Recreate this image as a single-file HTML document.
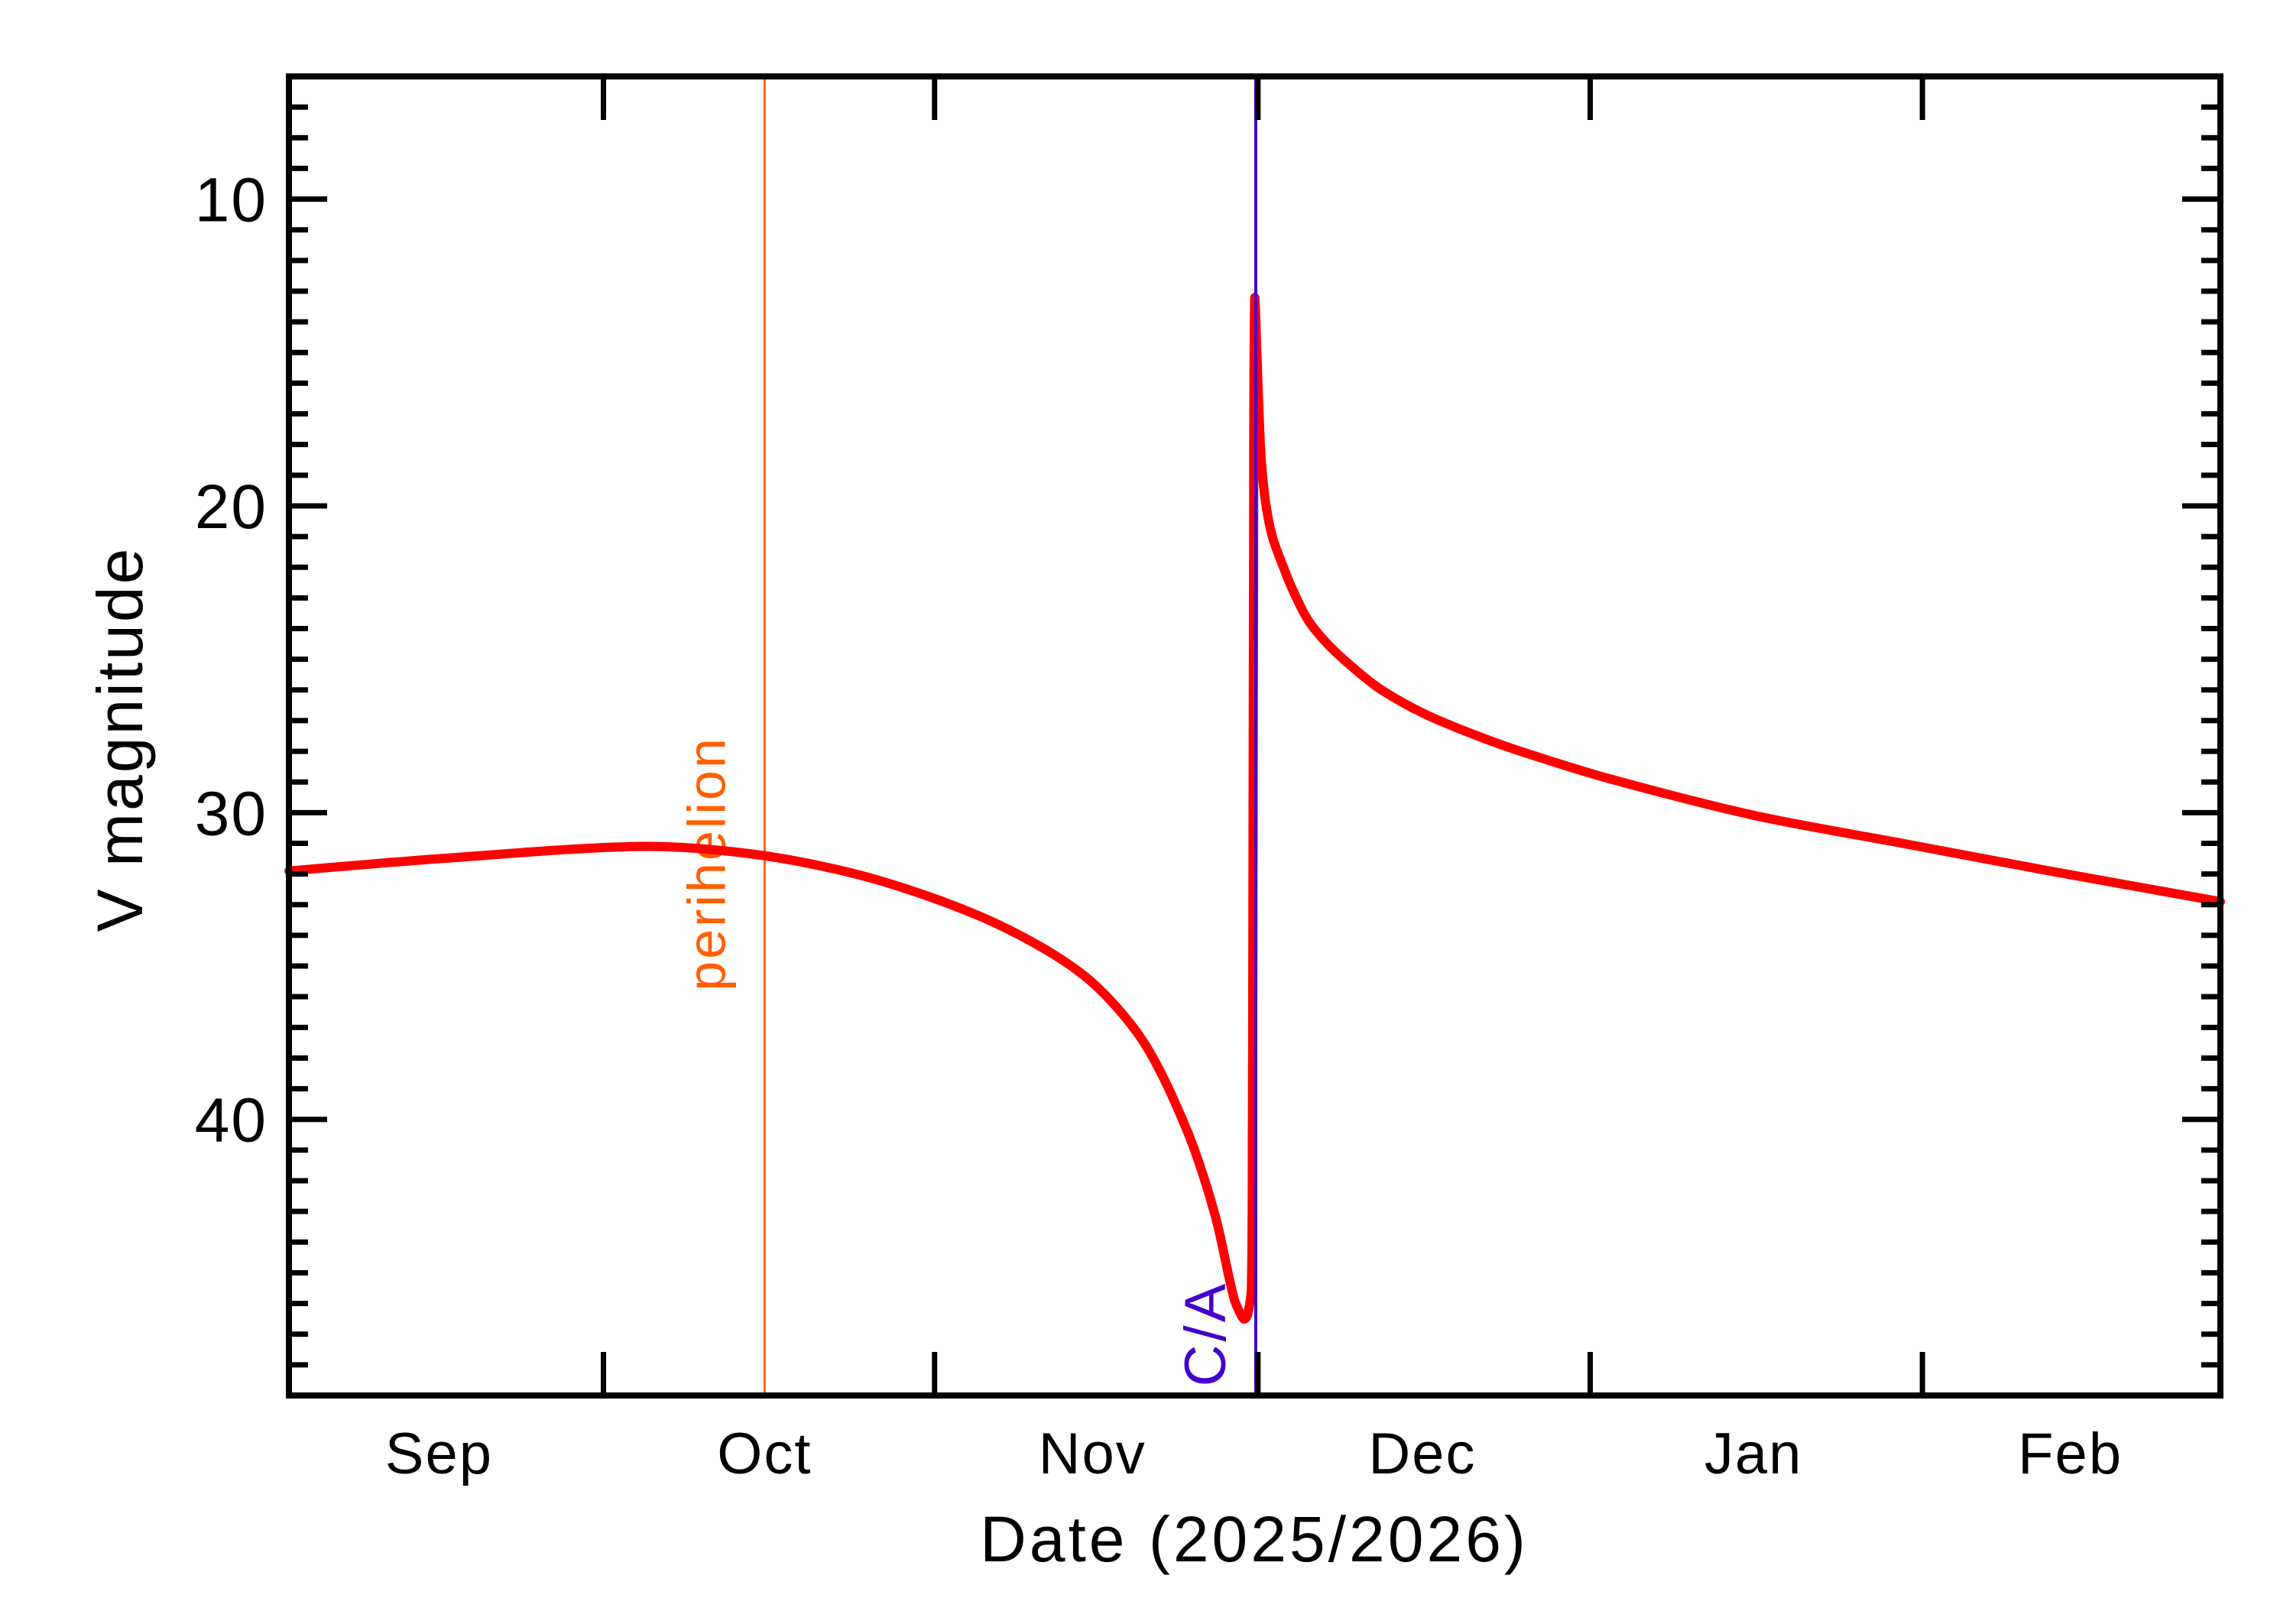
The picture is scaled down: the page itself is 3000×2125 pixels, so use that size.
<!DOCTYPE html>
<html><head><meta charset="utf-8"><style>
html,body{margin:0;padding:0;background:#fff;}
svg{display:block;}
text{font-family:"Liberation Sans",sans-serif;}
</style></head><body>
<svg id="chart" width="3000" height="2125" viewBox="0 0 3000 2125" xmlns="http://www.w3.org/2000/svg">
<rect x="0" y="0" width="3000" height="2125" fill="#fff"/>
<g id="marks"></g>
<g id="axes"></g>
<text x="1641" y="2043" font-size="84" letter-spacing="4" text-anchor="middle">Date (2025/2026)</text>
<text transform="translate(186,967) rotate(-90)" font-size="84" letter-spacing="3" text-anchor="middle">V magnitude</text>
</svg>
<script>
const days = [0,13.6,32.2,43.0,53.4,64.0,72.0,77.3,81.3,83.9,85.6,86.3,86.6,86.9,87.2,87.3,87.35,87.4,87.5,87.7,87.9,88.1,88.5,89.1,90.0,90.9,92.3,94.1,96.5,99.0,103.0,107.7,112.0,119.7,132.9,146.2,159.5,175];
const mags = [31.9,31.5,31.1,31.4,32.2,33.6,35.3,37.4,40.3,43.1,45.8,46.4,46.5,46.3,45.5,40,32,22,13.3,15.0,17.0,18.5,19.9,21.0,21.9,22.7,23.7,24.5,25.3,26.0,26.8,27.5,28.05,28.9,30.1,31.0,31.9,32.9];
const yTicks = [10,20,30,40];
const monthLabels = ["Sep","Oct","Nov","Dec","Jan","Feb"];
const monthLabelDays = [13.6,43.1,72.8,102.7,132.7,161.4];
const majorTickDays = [28.5,58.5,87.8,117.9,148.0];
const perihelionDay = 43.1;
const closeApproachDay = 87.6;

const X0=378, X1=2905, Y0=100, Y1=1826;
const dMin=0, dMax=175, mMin=6, mMax=49;
function xs(d){return X0+(d-dMin)/(dMax-dMin)*(X1-X0);}
function ys(m){return Y0+(m-mMin)/(mMax-mMin)*(Y1-Y0);}
const NS="http://www.w3.org/2000/svg";
const marks=document.getElementById('marks');
const axes=document.getElementById('axes');
function mk(tag,attrs,parent){const e=document.createElementNS(NS,tag);for(const k in attrs)e.setAttribute(k,attrs[k]);parent.appendChild(e);return e;}

// perihelion line
let pl=mk('line',{x1:xs(perihelionDay),x2:xs(perihelionDay),y1:Y0,y2:Y1,stroke:'#ff5f00','stroke-width':3},marks);


let pt=mk('text',{transform:'translate('+(xs(perihelionDay)-52)+',1130) rotate(-90)','font-size':70,'letter-spacing':3,'text-anchor':'middle',fill:'#ff5f00'},marks);
pt.textContent='perihelion';



// curve (smoothed through data points)
const P=days.map((d,i)=>[xs(d),ys(mags[i])]);
let dstr='M'+P[0][0].toFixed(1)+','+P[0][1].toFixed(1);
for(let i=0;i<P.length-1;i++){
  const p0=P[Math.max(0,i-1)],p1=P[i],p2=P[i+1],p3=P[Math.min(P.length-1,i+2)];
  const seg=Math.hypot(p2[0]-p1[0],p2[1]-p1[1]);
  const l0=Math.hypot(p2[0]-p0[0],p2[1]-p0[1])||1, l1=Math.hypot(p3[0]-p1[0],p3[1]-p1[1])||1;
  const k=seg/3;
  const c1=[p1[0]+(p2[0]-p0[0])/l0*k*0.9,p1[1]+(p2[1]-p0[1])/l0*k*0.9];
  const c2=[p2[0]-(p3[0]-p1[0])/l1*k*0.9,p2[1]-(p3[1]-p1[1])/l1*k*0.9];
  dstr+='C'+c1[0].toFixed(1)+','+c1[1].toFixed(1)+' '+c2[0].toFixed(1)+','+c2[1].toFixed(1)+' '+p2[0].toFixed(1)+','+p2[1].toFixed(1);
}
let cv=mk('path',{d:dstr,fill:'none',stroke:'#ff0000','stroke-width':12,'stroke-linejoin':'round','stroke-linecap':'round'},marks);



// close approach line
let cl=mk('line',{x1:xs(closeApproachDay),x2:xs(closeApproachDay),y1:Y0,y2:Y1,stroke:'#4400cc','stroke-width':4},marks);


let ct=mk('text',{transform:'translate('+(xs(closeApproachDay)-40)+',1745) rotate(-90)','font-size':76,'letter-spacing':4,'text-anchor':'middle',fill:'#4400cc'},marks);
ct.textContent='C/A';



// frame
let fr=mk('rect',{x:X0,y:Y0,width:X1-X0,height:Y1-Y0,fill:'none',stroke:'#000','stroke-width':8},axes);



// y ticks
for(let m=mMin;m<=mMax;m++){
  const maj=(m%10===0);const L=maj?50:25;const y=ys(m);
  let t1=mk('line',{x1:X0,x2:X0+L,y1:y,y2:y,stroke:'#000','stroke-width':7},axes);
  
  
  let t2=mk('line',{x1:X1,x2:X1-L,y1:y,y2:y,stroke:'#000','stroke-width':7},axes);
  
  
}
yTicks.forEach(v=>{
  let t=mk('text',{x:350,y:ys(v)+29,'font-size':82,'letter-spacing':2,'text-anchor':'end'},axes);
  t.textContent=String(v);
  
  
});
// x ticks
majorTickDays.forEach(d=>{
  let a=mk('line',{x1:xs(d),x2:xs(d),y1:Y0,y2:Y0+57,stroke:'#000','stroke-width':7},axes);
  
  
  let b=mk('line',{x1:xs(d),x2:xs(d),y1:Y1,y2:Y1-57,stroke:'#000','stroke-width':7},axes);
  
  
});
monthLabels.forEach((lab,i)=>{
  let t=mk('text',{x:xs(monthLabelDays[i]),y:1928,'font-size':76,'letter-spacing':2,'text-anchor':'middle'},axes);
  t.textContent=lab;
  
  
});
</script>
</body></html>
